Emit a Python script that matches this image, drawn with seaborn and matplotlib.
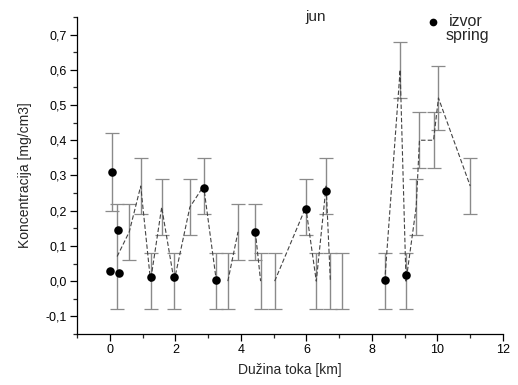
import numpy as np
import pandas as pd
import matplotlib
matplotlib.use("Agg")
import matplotlib.pyplot as plt
from matplotlib.ticker import MultipleLocator
import seaborn as sns

# izvor (spring) samples
izvor_x = [0.0, 0.07, 0.25, 0.28, 1.24, 1.96, 2.86, 3.25, 4.44, 5.98, 6.60, 8.39, 9.04]
izvor_y = [0.028, 0.31, 0.145, 0.024, 0.012, 0.012, 0.265, 0.004, 0.14, 0.206, 0.256, 0.002, 0.017]

# river profile: mean, error and line segment (0 = not joined)
tok_x = [0.22, 0.59, 0.94, 1.24, 1.58, 1.96, 2.44, 2.86, 3.25, 3.60, 3.91, 4.44, 4.60,
         5.03, 5.98, 6.30, 6.60, 6.73, 7.10, 8.39, 8.86, 9.04, 9.35, 9.45, 9.88, 10.03, 11.0]
tok_y = [0.07, 0.14, 0.27, 0.00, 0.21, 0.00, 0.21, 0.27, 0.00, 0.00, 0.14, 0.14, 0.00,
         0.00, 0.21, 0.00, 0.27, 0.00, 0.00, 0.00, 0.60, 0.00, 0.21, 0.40, 0.40, 0.52, 0.27]
tok_err = [0.15, 0.08, 0.08, 0.08, 0.08, 0.08, 0.08, 0.08, 0.08, 0.08, 0.08, 0.08, 0.08,
           0.08, 0.08, 0.08, 0.08, 0.08, 0.08, 0.08, 0.08, 0.08, 0.08, 0.08, 0.08, 0.09, 0.08]
tok_seg = [1, 1, 1, 1, 1, 1, 1, 1, 1, 2, 2, 3, 3,
           4, 4, 4, 4, 4, 0, 5, 5, 5, 5, 5, 5, 5, 5]

y_ticks = [-0.1, 0.0, 0.1, 0.2, 0.3, 0.4, 0.5, 0.6, 0.7]
y_labels = ["-0,1", "0,0", "0,1", "0,2", "0,3", "0,4", "0,5", "0,6", "0,7"]
x_ticks = [0, 2, 4, 6, 8, 10, 12]

sns.set_theme(style="ticks")
plt.rcParams["font.family"] = ["Liberation Sans", "DejaVu Sans"]

df_izvor = pd.DataFrame({"x": izvor_x, "y": izvor_y})
df_tok = pd.DataFrame({"x": tok_x, "y": tok_y, "err": tok_err, "seg": tok_seg})

fig, ax = plt.subplots(figsize=(5.18, 3.85), dpi=100)
fig.subplots_adjust(left=0.149, right=0.971, bottom=0.1325, top=0.956)

# error bars first so lines and dots sit on top
ax.errorbar(df_tok["x"], df_tok["y"], yerr=df_tok["err"], fmt="none",
            ecolor="#8a8a8a", elinewidth=1.0, capsize=5, capthick=0.9, zorder=1)
ax.errorbar([0.07], [0.31], yerr=[0.11], fmt="none",
            ecolor="#8a8a8a", elinewidth=1.0, capsize=5, capthick=0.9, zorder=1)

joined = df_tok[df_tok["seg"] > 0]
sns.lineplot(data=joined, x="x", y="y", units="seg", estimator=None, sort=False,
             color="#444444", lw=0.8, dashes=False, linestyle=(0, (4, 2)), ax=ax, zorder=2)

sns.scatterplot(data=df_izvor, x="x", y="y", color="black", s=38, edgecolor="black",
                linewidth=0, ax=ax, zorder=3, label="izvor")

ax.set_xlim(-1, 12)
ax.set_ylim(-0.15, 0.75)
ax.set_xticks(x_ticks)
ax.set_xticklabels([str(t) for t in x_ticks])
ax.xaxis.set_minor_locator(MultipleLocator(1))
ax.set_yticks(y_ticks)
ax.set_yticklabels(y_labels)
ax.yaxis.set_minor_locator(MultipleLocator(0.05))
ax.tick_params(which="major", direction="out", length=5, width=0.9, labelsize=9,
               colors="black", pad=2.5)
ax.tick_params(which="minor", direction="out", length=3, width=0.9)
sns.despine(ax=ax)
for s in ("left", "bottom"):
    ax.spines[s].set_color("black")
    ax.spines[s].set_linewidth(0.9)

ax.set_xlabel("Dužina toka [km]", fontsize=10, labelpad=5)
ax.set_ylabel("Koncentracija [mg/cm3]", fontsize=10, labelpad=10)
ax.text(0.56, 1.0, "jun", transform=ax.transAxes, ha="center", va="center", fontsize=11)

ax.legend(loc="upper left", bbox_to_anchor=(0.765, 1.055), frameon=False, fontsize=11.5,
          handletextpad=0.0, markerscale=0.9)
ax.text(0.866, 0.94, "spring", transform=ax.transAxes, ha="left", va="center", fontsize=11.5)

fig.savefig("out.png", dpi=100)
